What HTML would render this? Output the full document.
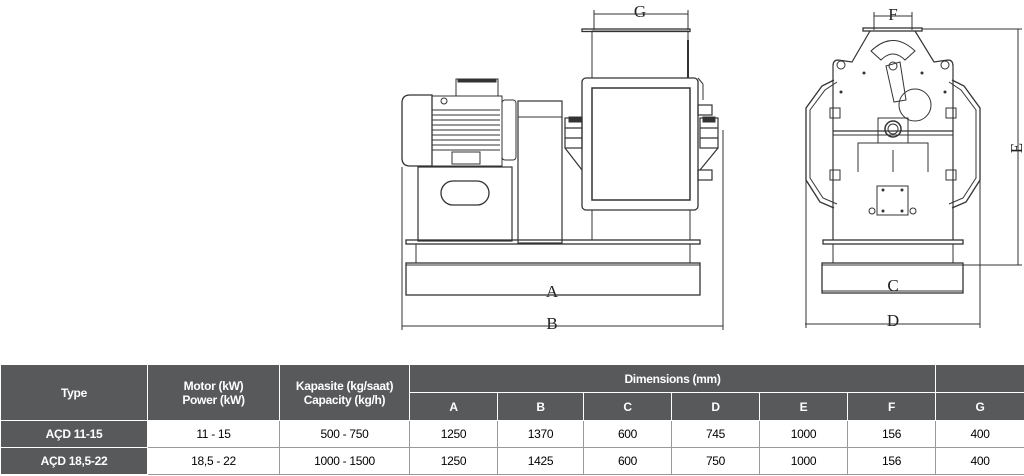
<!DOCTYPE html>
<html><head><meta charset="utf-8">
<style>
body{margin:0;background:#fff;width:1024px;height:476px;overflow:hidden;position:relative;font-family:"Liberation Sans",sans-serif}
svg{position:absolute;left:0;top:0}
table{position:absolute;left:0;top:364px;width:1024px;border-collapse:collapse;table-layout:fixed;font-family:"Liberation Sans",sans-serif;font-size:12px;letter-spacing:-0.3px}
td{text-align:center;padding:0;border:1px solid #999;}
td.h{background:#58595b;color:#fff;font-weight:bold;border:1px solid #fff}
</style></head><body>
<svg width="1024" height="364" viewBox="0 0 1024 364" fill="none" stroke="#333" stroke-width="1">
<g font-family="Liberation Serif" font-size="17" fill="#222" stroke="none" text-anchor="middle">
<text x="640" y="17">G</text><text x="552" y="297">A</text><text x="552" y="329">B</text>
<text x="893" y="20">F</text><text x="893" y="291">C</text><text x="893" y="326">D</text>
<text x="0" y="0" transform="translate(1022,148) rotate(-90)">E</text>
</g>
<!-- left view dims -->
<line x1="594" y1="14" x2="688" y2="14"/><line x1="594" y1="10" x2="594" y2="30"/><line x1="688" y1="10" x2="688" y2="30"/>
<line x1="406" y1="295" x2="700" y2="295"/>
<line x1="402" y1="326" x2="723" y2="326"/><line x1="402" y1="167" x2="402" y2="330"/><line x1="723" y1="130" x2="723" y2="330"/>
<!-- hopper -->
<rect x="582" y="29" width="108" height="2.5" stroke-width="1.3"/>
<rect x="592" y="31" width="96" height="47"/>
<line x1="688" y1="40" x2="688" y2="78" stroke-width="2"/>
<rect x="582" y="78" width="116" height="132" rx="4" stroke-width="1.3"/>
<rect x="592" y="88" width="98" height="112" stroke-width="1.5"/>
<rect x="592" y="210" width="98" height="30"/>
<line x1="698" y1="78" x2="703" y2="84"/><line x1="703" y1="84" x2="703" y2="100"/>
<!-- bearings -->
<g stroke-width="1.2"><rect x="565" y="118" width="17" height="30"/><line x1="565" y1="128" x2="582" y2="128"/><line x1="565" y1="138" x2="582" y2="138"/><path d="M565 148 L582 170"/>
<rect x="700" y="118" width="18" height="30"/><line x1="700" y1="128" x2="718" y2="128"/><line x1="700" y1="138" x2="718" y2="138"/><path d="M718 148 L700 170"/>
<rect x="698" y="105" width="14" height="10"/><rect x="698" y="170" width="14" height="10"/></g>
<rect x="569" y="117" width="12" height="5" fill="#333"/><rect x="703" y="117" width="12" height="5" fill="#333"/>
<!-- motor -->
<path d="M410 95 L432 95 L432 166 L410 166 Q402 166 402 158 L402 103 Q402 95 410 95Z" stroke-width="1.3"/>
<rect x="432" y="96" width="70" height="70"/>
<g stroke-width="1"><line x1="432" y1="110" x2="500" y2="110"/><line x1="432" y1="115" x2="500" y2="115"/><line x1="432" y1="120" x2="500" y2="120"/><line x1="432" y1="125" x2="500" y2="125"/><line x1="432" y1="130" x2="500" y2="130"/><line x1="432" y1="135" x2="500" y2="135"/><line x1="432" y1="140" x2="500" y2="140"/><line x1="432" y1="145" x2="500" y2="145"/><line x1="432" y1="150" x2="500" y2="150"/></g>
<rect x="456" y="79" width="42" height="17"/><rect x="458" y="79" width="38" height="3" fill="#333"/>
<circle cx="444" cy="101" r="3"/>
<rect x="452" y="152" width="28" height="12"/>
<rect x="502" y="100" width="14" height="60" rx="3"/>
<rect x="518" y="101" width="44" height="142" stroke-width="1.2"/><line x1="518" y1="117" x2="562" y2="117"/>
<rect x="418" y="167" width="94" height="74" stroke-width="1.2"/>
<rect x="441" y="181" width="48" height="24" rx="12" stroke-width="1.3"/>
<!-- base -->
<rect x="406" y="240" width="294" height="4" stroke-width="1.3"/>
<rect x="416" y="244" width="274" height="19"/>
<rect x="406" y="263" width="294" height="32" stroke-width="1.3"/><line x1="406" y1="265" x2="700" y2="265"/>
<!-- right view -->
<line x1="874" y1="16" x2="912" y2="16"/><line x1="874" y1="12" x2="874" y2="30"/><line x1="912" y1="12" x2="912" y2="30"/>
<line x1="922" y1="29" x2="1022" y2="29"/><line x1="963" y1="265" x2="1022" y2="265"/><line x1="1018" y1="29" x2="1018" y2="265"/>
<line x1="822" y1="291" x2="963" y2="291"/><line x1="805" y1="324" x2="980" y2="324"/>
<line x1="806" y1="180" x2="806" y2="328"/><line x1="980" y1="180" x2="980" y2="328"/>
<rect x="863" y="28" width="59" height="3" stroke-width="1.3"/>
<path d="M870 31 L852 62 L838 60 Q833 60 833 66 L833 240 M915 31 L934 62 L948 60 Q953 60 953 66 L953 240" stroke-width="1.2"/>
<circle cx="841" cy="65" r="4"/><circle cx="945" cy="65" r="4"/>
<path d="M834 80 L822 86 L806 108 L806 180 L820 202 L834 208" stroke-width="1.3"/><path d="M837 82 L825 90 L810 110 L810 178 L823 198 L837 204"/>
<path d="M952 80 L964 86 L980 108 L980 180 L966 202 L952 208" stroke-width="1.3"/><path d="M949 82 L961 90 L976 110 L976 178 L963 198 L949 204"/>
<line x1="833" y1="131" x2="953" y2="131" stroke-width="1.3"/><line x1="833" y1="135" x2="953" y2="135"/>
<rect x="830" y="108" width="10" height="10"/><rect x="946" y="108" width="10" height="10"/><rect x="830" y="170" width="10" height="10"/><rect x="946" y="170" width="10" height="10"/>
<path d="M871 51 Q893 30 915 51 L905 60 Q893 48 881 60Z"/>
<path d="M886 66 L900 62 L906 100 L894 102Z"/><circle cx="893" cy="66" r="4"/>
<circle cx="915" cy="105" r="16"/>
<rect x="878" y="118" width="30" height="25"/><circle cx="893" cy="129" r="8" stroke-width="1.5"/><circle cx="893" cy="129" r="5"/>
<path d="M858 150 L858 143 L928 143 L928 150"/><line x1="858" y1="150" x2="858" y2="172"/><line x1="893" y1="150" x2="893" y2="172"/><line x1="928" y1="150" x2="928" y2="172"/>
<rect x="877" y="186" width="31" height="29"/>
<circle cx="872" cy="211" r="3"/><circle cx="913" cy="211" r="3"/>
<g fill="#333" stroke="none"><circle cx="864" cy="73" r="1.5"/><circle cx="922" cy="73" r="1.5"/><circle cx="841" cy="92" r="1.5"/><circle cx="945" cy="92" r="1.5"/><circle cx="883" cy="190" r="1.5"/><circle cx="902" cy="190" r="1.5"/><circle cx="883" cy="211" r="1.5"/><circle cx="902" cy="211" r="1.5"/></g>
<rect x="823" y="240" width="140" height="4" stroke-width="1.3"/>
<line x1="833" y1="244" x2="833" y2="263"/><line x1="953" y1="244" x2="953" y2="263"/>
<rect x="822" y="263" width="141" height="30" stroke-width="1.3"/><line x1="822" y1="265" x2="963" y2="265"/>
</svg>
<table>
<colgroup><col style="width:147px"><col style="width:132px"><col style="width:130px"><col style="width:88px"><col style="width:86px"><col style="width:88px"><col style="width:88px"><col style="width:88px"><col style="width:88px"><col style="width:89px"></colgroup>
<tr style="height:28px"><td class="h" rowspan="2">Type</td><td class="h" rowspan="2">Motor (kW)<br>Power (kW)</td><td class="h" rowspan="2">Kapasite (kg/saat)<br>Capacity (kg/h)</td><td class="h" colspan="6">Dimensions (mm)</td><td class="h"></td></tr>
<tr style="height:28px"><td class="h">A</td><td class="h">B</td><td class="h">C</td><td class="h">D</td><td class="h">E</td><td class="h">F</td><td class="h">G</td></tr>
<tr style="height:27px"><td class="h">AÇD 11-15</td><td>11 - 15</td><td>500 - 750</td><td>1250</td><td>1370</td><td>600</td><td>745</td><td>1000</td><td>156</td><td>400</td></tr>
<tr style="height:27px"><td class="h">AÇD 18,5-22</td><td>18,5 - 22</td><td>1000 - 1500</td><td>1250</td><td>1425</td><td>600</td><td>750</td><td>1000</td><td>156</td><td>400</td></tr>
</table>
</body></html>
